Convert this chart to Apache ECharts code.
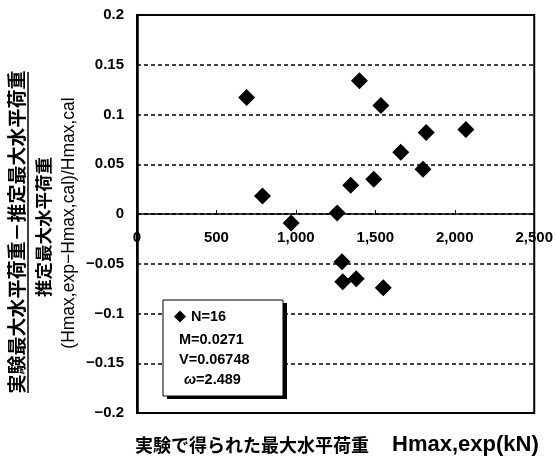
<!DOCTYPE html>
<html>
<head>
<meta charset="utf-8">
<script src="https://cdn.jsdelivr.net/npm/echarts@6/dist/echarts.min.js"></script>
<style>
  html, body { margin: 0; padding: 0; background: #fff; }
  #chart { width: 556px; height: 462px; }
</style>
</head>
<body>
<div id="chart"></div>
<script>
// 実験値 Hmax,exp (kN)
var hExp = [690, 790, 970, 1260, 1290, 1295, 1345, 1380, 1400, 1490, 1535, 1550, 1660, 1800, 1820, 2070];
// (Hmax,exp - Hmax,cal) / Hmax,cal
var ratio = [0.117, 0.018, -0.009, 0.001, -0.048, -0.068, 0.029, -0.065, 0.134, 0.035, 0.109, -0.074, 0.062, 0.045, 0.082, 0.085];

var seriesName = 'N=16';
var statLines = ['M=0.0271', 'V=0.06748', '2.489'];

var xTitleJa = '実験で得られた最大水平荷重';
var xTitleEn = 'Hmax,exp(kN)';
var yTitleTop = '実験最大水平荷重－推定最大水平荷重';
var yTitleBottom = '推定最大水平荷重';
var yTitleFormula = '(Hmax,exp−Hmax,cal)/Hmax,cal';

var points = hExp.map(function (x, i) { return [x, ratio[i]]; });

var jaFont = '"Noto Sans CJK JP", sans-serif';
var enFont = '"Liberation Sans", Arial, sans-serif';

var chart = echarts.init(document.getElementById('chart'));

chart.setOption({
  animation: false,
  backgroundColor: '#fff',
  grid: {
    left: 137, right: 20, top: 15, bottom: 49,
    show: true,
    borderColor: '#000',
    borderWidth: 2
  },
  xAxis: {
    type: 'value',
    min: 0, max: 2500, interval: 500,
    // 軸は y=0 の位置 (グリッド下端から 199px 上)
    offset: -199,
    axisLine: { onZero: false, lineStyle: { color: '#000', width: 1.5 } },
    axisTick: { show: true, inside: true, length: 4, lineStyle: { color: '#000' } },
    axisLabel: {
      color: '#000', fontSize: 15, fontWeight: 'bold', fontFamily: enFont, margin: 16,
      formatter: function (v) { return String(v).replace(/\B(?=(\d{3})+(?!\d))/g, ','); }
    },
    splitLine: { show: false }
  },
  yAxis: {
    type: 'value',
    min: -0.2, max: 0.2, interval: 0.05,
    axisLine: { show: true, onZero: false, lineStyle: { color: '#000', width: 2.5 } },
    axisTick: { show: false },
    axisLabel: {
      color: '#000', fontSize: 15, fontWeight: 'bold', fontFamily: enFont, margin: 13,
      formatter: function (v) { return String(+v.toFixed(2)).replace('-', '−'); }
    },
    splitLine: { show: true, lineStyle: { color: '#000', width: 1.5, type: [4, 3] } }
  },
  legend: {
    data: [seriesName],
    left: 169, top: 304, padding: 5,
    icon: 'diamond',
    itemWidth: 12, itemHeight: 12, itemGap: 5,
    z: 10,
    textStyle: { color: '#000', fontSize: 14.5, fontWeight: 'bold', fontFamily: enFont }
  },
  graphic: [
    // 凡例ボックスの影
    { type: 'rect', z: 4, shape: { x: 167, y: 303, width: 120, height: 96 }, style: { fill: '#000' } },
    { type: 'rect', z: 5, shape: { x: 163, y: 300, width: 120, height: 96 }, style: { fill: '#fff', stroke: '#000', lineWidth: 1 } },
    { type: 'text', z: 11, x: 179, y: 340, style: { text: statLines[0], fill: '#000', font: 'bold 14.5px ' + enFont, textVerticalAlign: 'middle' } },
    { type: 'text', z: 11, x: 179, y: 360, style: { text: statLines[1], fill: '#000', font: 'bold 14.5px ' + enFont, textVerticalAlign: 'middle' } },
    {
      type: 'text', z: 11, x: 184, y: 380,
      style: {
        text: '{w|ω}{v|=' + statLines[2] + '}',
        textVerticalAlign: 'middle',
        rich: {
          w: { fill: '#000', fontSize: 14.5, fontStyle: 'italic', fontWeight: 'bold', fontFamily: enFont },
          v: { fill: '#000', fontSize: 14.5, fontWeight: 'bold', fontFamily: enFont }
        }
      }
    },
    // x axis title
    { type: 'text', x: 135, y: 445, style: { text: xTitleJa, fill: '#000', font: 'bold 18px ' + jaFont, textVerticalAlign: 'middle' } },
    { type: 'text', x: 392, y: 445, style: { text: xTitleEn, fill: '#000', font: 'bold 22px ' + enFont, textVerticalAlign: 'middle' } },
    // y axis titles (rotated)
    { type: 'text', x: 17, y: 232, rotation: Math.PI / 2, style: { text: yTitleTop, fill: '#000', font: 'bold 19px ' + jaFont, textAlign: 'center', textVerticalAlign: 'middle' } },
    { type: 'line', shape: { x1: 28, y1: 72, x2: 28, y2: 393 }, style: { stroke: '#000', lineWidth: 1.5 } },
    { type: 'text', x: 43, y: 227, rotation: Math.PI / 2, style: { text: yTitleBottom, fill: '#000', font: 'bold 17.5px ' + jaFont, textAlign: 'center', textVerticalAlign: 'middle' } },
    { type: 'text', x: 69, y: 223, rotation: Math.PI / 2, style: { text: yTitleFormula, fill: '#000', font: '17.5px ' + enFont, textAlign: 'center', textVerticalAlign: 'middle' } }
  ],
  series: [{
    name: seriesName,
    type: 'scatter',
    symbol: 'diamond',
    symbolSize: 17,
    itemStyle: { color: '#000', opacity: 1 },
    data: points
  }]
});
</script>
</body>
</html>
